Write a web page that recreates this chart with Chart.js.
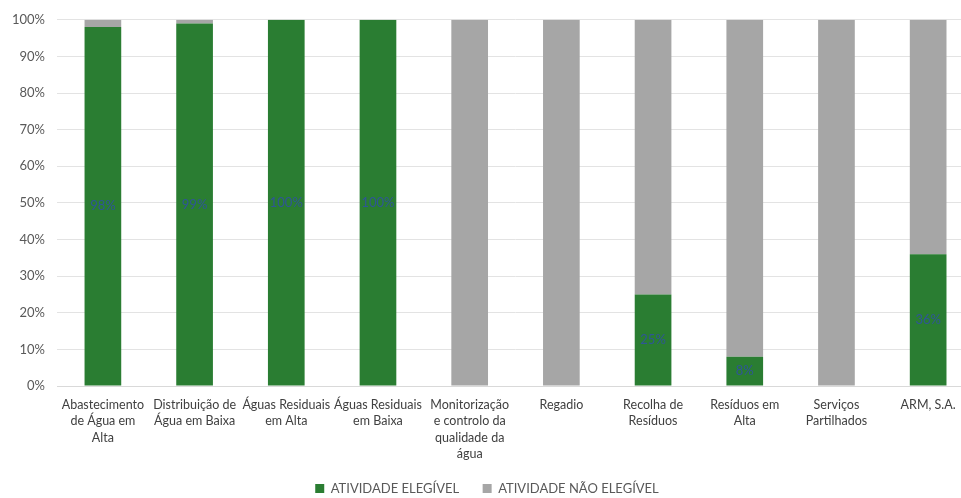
<!DOCTYPE html>
<html>
<head>
<meta charset="utf-8">
<script src="https://cdn.jsdelivr.net/npm/chart.js@4.4.1/dist/chart.umd.min.js"></script>
<style>
 html,body{margin:0;padding:0;background:#fff;overflow:hidden;}
 #wrap{width:961px;height:498px;overflow:hidden;}
</style>
</head>
<body>
<div id="wrap"><canvas id="mychart" width="978" height="498"></canvas></div>
<script>
// categorias (rótulos em várias linhas)
var labels = [
 ["Abastecimento","de Água em","Alta"],
 ["Distribuição de","Água em Baixa"],
 ["Águas Residuais","em Alta"],
 ["Águas Residuais","em Baixa"],
 ["Monitorização","e controlo da","qualidade da","água"],
 ["Regadio"],
 ["Recolha de","Resíduos"],
 ["Resíduos em","Alta"],
 ["Serviços","Partilhados"],
 ["ARM, S.A."]
]
var elegivel = [98, 99, 100, 100, 0, 0, 25, 8, 0, 36]
var naoElegivel = [2, 1, 0, 0, 100, 100, 75, 92, 100, 64]

// escreve a percentagem a meio da barra verde
var valueLabels = {
 id:'valueLabels',
 afterDatasetsDraw:function(chart){
  var ctx = chart.ctx
  var meta = chart.getDatasetMeta(0)
  ctx.save()
  ctx.font = "13px Lato"
  ctx.fillStyle = "#2f5597"
  ctx.textAlign = "center"
  ctx.textBaseline = "middle"
  meta.data.forEach(function(bar,i){
   var v = elegivel[i]
   if(!v) return
   ctx.fillText(v+"%", bar.x, (bar.y+bar.base)/2)
  })
  ctx.restore()
 }
}

var chart = new Chart(document.getElementById("mychart").getContext('2d'),{
 type:'bar',
 data:{
  labels:labels,
  datasets:[
   {label:"ATIVIDADE ELEGÍVEL",data:elegivel,backgroundColor:"#2a7d32",barPercentage:0.4,categoryPercentage:1},
   {label:"ATIVIDADE NÃO ELEGÍVEL",data:naoElegivel,backgroundColor:"#a6a6a6",barPercentage:0.4,categoryPercentage:1}
  ]
 },
 options:{
  responsive:false,
  animation:false,
  layout:{padding:{left:0,right:4,top:14,bottom:-7}},
  scales:{
   x:{
    stacked:true,
    grid:{display:false},
    border:{color:"#d9d9d9"},
    ticks:{color:"#404040",font:{family:"Lato",size:12.5,lineHeight:1.3},maxRotation:0,autoSkip:false,padding:3},
    afterFit:function(s){ s.height += 13 }
   },
   y:{
    stacked:true,
    min:0,max:100,
    ticks:{stepSize:10,color:"#595959",font:{family:"Lato",size:13},padding:12,callback:function(v){return v+"%"}},
    grid:{color:"#e3e3e3",drawTicks:false},
    border:{display:false}
   }
  },
  plugins:{
   legend:{
    position:'bottom',
    labels:{
     color:"#595959",font:{family:"Lato",size:13},boxWidth:9,boxHeight:9,padding:4,
     generateLabels:function(chart){
      // afasta um pouco os dois itens da legenda
      var items = Chart.defaults.plugins.legend.labels.generateLabels(chart)
      items.forEach(function(it,i){ if(i==0) it.text += "\u2003\u2003" })
      return items
     }
    }
   },
   tooltip:{enabled:false}
  }
 },
 plugins:[valueLabels]
})
</script>
</body>
</html>
